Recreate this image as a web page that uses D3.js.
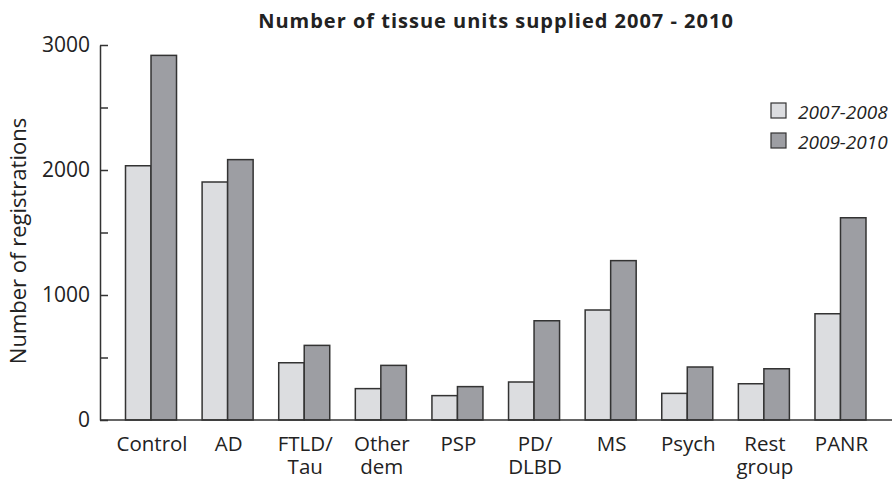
<!DOCTYPE html>
<html>
<head>
<meta charset="utf-8">
<script src="https://cdn.jsdelivr.net/npm/d3@7"></script>
<style>
  body { margin: 0; background: #fff; }
  svg text { font-family: "Open Sans", "Noto Sans", sans-serif; fill: #222; }
</style>
</head>
<body>
<svg id="chart"></svg>
<script>
var categories = ["Control", "AD", "FTLD/\nTau", "Other\ndem", "PSP", "PD/\nDLBD", "MS", "Psych", "Rest\ngroup", "PANR"];
var series = ["2007-2008", "2009-2010"];
var values0708 = [2034, 1904, 458, 251, 195, 304, 880, 213, 290, 850];
var values0910 = [2917, 2083, 597, 437, 267, 794, 1275, 424, 410, 1618];
var yTicks = [0, 1000, 2000, 3000];

var margin = {top: 45, right: 1, bottom: 60, left: 100},
    width = 893 - margin.left - margin.right,
    height = 480 - margin.top - margin.bottom;

var svg = d3.select("#chart")
    .attr("width", 893)
    .attr("height", 480);

var g = svg.append("g")
    .attr("transform", "translate(" + margin.left + "," + margin.top + ")");

// 10 groups, first centre at ~51px, step ~76.6px
var x = d3.scaleBand()
    .domain(d3.range(categories.length))
    .range([25.5, 766])
    .paddingInner(0.334)
    .paddingOuter(0);

var x1 = d3.scaleBand()
    .domain(series)
    .range([0, x.bandwidth()]);

var y = d3.scaleLinear()
    .domain([0, 3000])
    .range([height, 0]);

var color = d3.scaleOrdinal()
    .domain(series)
    .range(["#dcdde0", "#9d9ea3"]);

var data = categories.map(function(c, i) {
  return {cat: i, vals: [
    {s: series[0], v: values0708[i]},
    {s: series[1], v: values0910[i]}
  ]};
});

// bars
var grp = g.selectAll(".grp")
    .data(data)
  .enter().append("g")
    .attr("class", "grp")
    .attr("transform", function(d) { return "translate(" + x(d.cat) + ",0)"; });

grp.selectAll("rect")
    .data(function(d) { return d.vals; })
  .enter().append("rect")
    .attr("x", function(d) { return x1(d.s); })
    .attr("y", function(d) { return y(d.v); })
    .attr("width", x1.bandwidth())
    .attr("height", function(d) { return height - y(d.v); })
    .attr("fill", function(d) { return color(d.s); })
    .attr("stroke", "#333")
    .attr("stroke-width", 1.5);

// y axis: ticks inward, minor ticks at 500
var yAxis = d3.axisLeft(y)
    .tickValues(d3.range(0, 3001, 500))
    .tickSizeInner(-8)
    .tickSizeOuter(0)
    .tickPadding(10)
    .tickFormat(function(d) { return yTicks.indexOf(d) >= 0 ? d : ""; });

var ya = g.append("g")
    .call(yAxis);
ya.select(".domain").attr("stroke", "#333").attr("stroke-width", 1.5);
ya.selectAll(".tick line").attr("stroke", "#333").attr("stroke-width", 1.5);
ya.selectAll(".tick text")
    .attr("font-size", 21)
    .attr("x", -10)
    .attr("fill", "#222")
    .style("font-family", "'Open Sans', sans-serif");

// x axis baseline
g.append("line")
    .attr("x1", 0)
    .attr("x2", width)
    .attr("y1", height)
    .attr("y2", height)
    .attr("stroke", "#333")
    .attr("stroke-width", 1.5);

// category labels
var lab = g.selectAll(".cat")
    .data(categories)
  .enter().append("text")
    .attr("class", "cat")
    .attr("text-anchor", "middle")
    .attr("font-size", 20.5)
    .attr("transform", function(d, i) {
      return "translate(" + (x(i) + x.bandwidth() / 2 + 1) + "," + (height + 31) + ")";
    });
lab.selectAll("tspan")
    .data(function(d) { return d.split("\n"); })
  .enter().append("tspan")
    .attr("x", 0)
    .attr("dy", function(d, i) { return i ? 23 : 0; })
    .text(function(d) { return d; });

// axis title
svg.append("text")
    .attr("transform", "translate(26,241) rotate(-90)")
    .attr("text-anchor", "middle")
    .attr("font-size", 22)
    .text("Number of registrations");

// chart title
svg.append("text")
    .attr("x", 496)
    .attr("y", 28)
    .attr("text-anchor", "middle")
    .attr("font-size", 20)
    .attr("font-weight", "bold")
    .attr("letter-spacing", 1)
    .text("Number of tissue units supplied 2007 - 2010");

// legend
var legend = svg.selectAll(".legend")
    .data(series)
  .enter().append("g")
    .attr("class", "legend")
    .attr("transform", function(d, i) { return "translate(771," + (103 + i * 30) + ")"; });

legend.append("rect")
    .attr("width", 15)
    .attr("height", 15)
    .attr("fill", color)
    .attr("stroke", "#333")
    .attr("stroke-width", 1.2);

legend.append("text")
    .attr("x", 27)
    .attr("y", 16)
    .attr("font-size", 19)
    .attr("font-style", "italic")
    .text(function(d) { return d; });
</script>
</body>
</html>
